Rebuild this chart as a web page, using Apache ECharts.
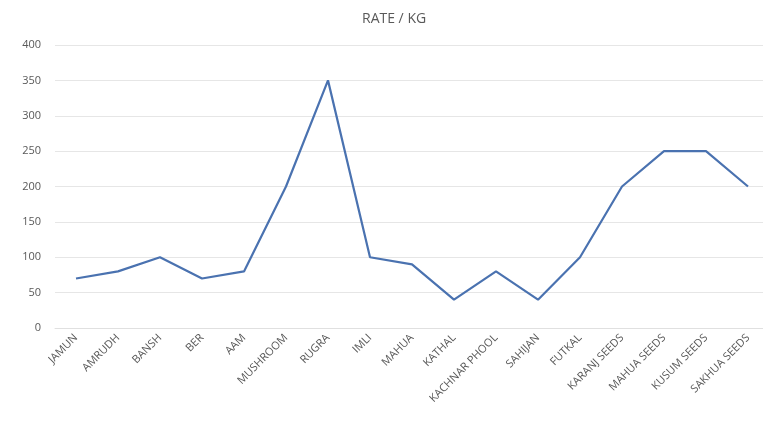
<!DOCTYPE html>
<html><head><meta charset="utf-8">
<script src="https://cdn.jsdelivr.net/npm/echarts@6/dist/echarts.min.js"></script>
<style>html,body{margin:0;padding:0;background:#fff;overflow:hidden}#c{width:772px;height:432px}</style>
</head><body><div id="c"></div>
<script>
const categories = ["JAMUN","AMRUDH","BANSH","BER","AAM","MUSHROOM","RUGRA","IMLI","MAHUA","KATHAL","KACHNAR PHOOL","SAHIJAN","FUTKAL","KARANJ SEEDS","MAHUA SEEDS","KUSUM SEEDS","SAKHUA SEEDS"];
const rates = [70,80,100,70,80,200,350,100,90,40,80,40,100,200,250,250,200];
const yTicks = {min:0, max:400, interval:50};
const chart = echarts.init(document.getElementById('c'));
chart.setOption({
  animation:false,
  title:{text:'RATE / KG', left:357, top:7, textStyle:{fontFamily:'Open Sans', fontSize:14, fontWeight:'normal', color:'#595959'}},
  grid:{left:55, right:3, top:45, bottom:104},
  xAxis:{type:'category', data:categories, boundaryGap:true,
    axisLine:{lineStyle:{color:'#e0e0e0'}}, axisTick:{show:false},
    axisLabel:{rotate:45, interval:0, fontFamily:'Open Sans', fontSize:11, color:'#595959', margin:8}},
  yAxis:{type:'value', min:yTicks.min, max:yTicks.max, interval:yTicks.interval,
    axisLine:{show:false}, axisTick:{show:false},
    splitLine:{lineStyle:{color:'#e6e6e6'}},
    axisLabel:{fontFamily:'Open Sans', fontSize:11, color:'#595959', margin:14}},
  series:[{type:'line', data:rates, symbol:'none', lineStyle:{color:'#4a72b0', width:2.2}}]
});
</script></body></html>
